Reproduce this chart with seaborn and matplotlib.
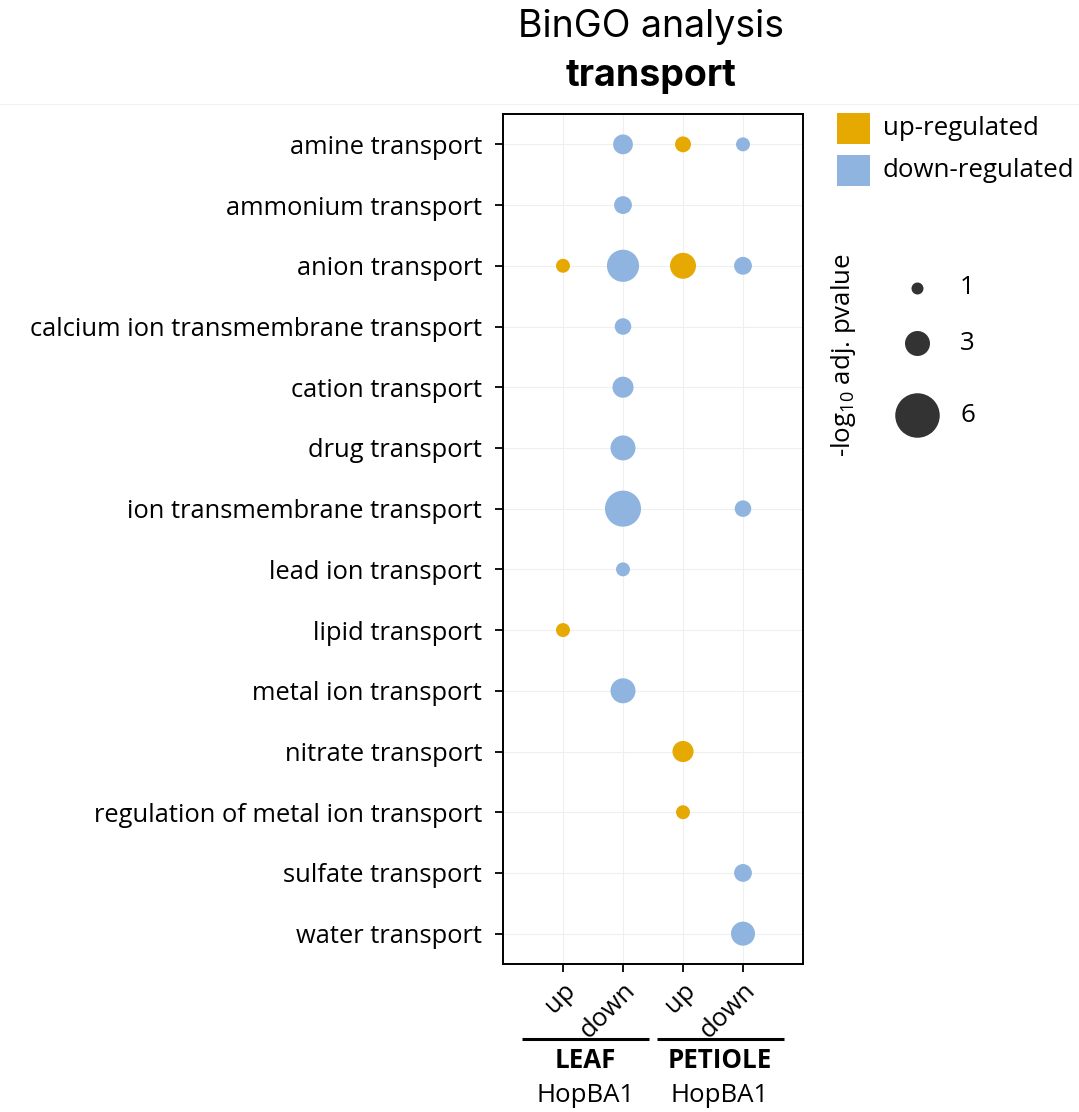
import numpy as np
import pandas as pd
import matplotlib
matplotlib.use("Agg")
import matplotlib.pyplot as plt
from matplotlib.patches import Rectangle
import seaborn as sns

# ---- data -----------------------------------------------------------------
terms = [
    "amine transport",
    "ammonium transport",
    "anion transport",
    "calcium ion transmembrane transport",
    "cation transport",
    "drug transport",
    "ion transmembrane transport",
    "lead ion transport",
    "lipid transport",
    "metal ion transport",
    "nitrate transport",
    "regulation of metal ion transport",
    "sulfate transport",
    "water transport",
]
# -log10 adjusted p-values per term (None = not enriched)
leaf_up = [None, None, 1.3, None, None, None, None, None, 1.3, None, None, None, None, None]
leaf_down = [2.2, 1.9, 4.1, 1.7, 2.4, 3.0, 4.7, 1.3, None, 3.0, None, None, None, None]
petiole_up = [1.6, None, 3.15, None, None, None, None, None, None, None, 2.4, 1.3, None, None]
petiole_down = [1.3, None, 1.9, None, None, None, 1.7, None, None, None, None, None, 1.9, 2.85]

column_labels = ["up", "down", "up", "down"]
tissues = ["LEAF", "PETIOLE"]
genotype = "HopBA1"
size_breaks = [1, 3, 6]

# ---- long table -----------------------------------------------------------
columns = [
    ("LEAF", "up", leaf_up),
    ("LEAF", "down", leaf_down),
    ("PETIOLE", "up", petiole_up),
    ("PETIOLE", "down", petiole_down),
]
rows = []
for ci, (tissue, direction, values) in enumerate(columns):
    for ti, v in enumerate(values):
        if v is not None:
            rows.append({"col": ci, "term": terms[ti], "row": ti,
                         "direction": direction, "pval": v})
df = pd.DataFrame(rows)

# ---- styling --------------------------------------------------------------
W, H = 1079, 1112
DPI = 100
UP_COLOR = "#E5A902"
DOWN_COLOR = "#8FB4E0"
palette = {"up": UP_COLOR, "down": DOWN_COLOR}

sns.set_theme(style="white")
plt.rcParams["font.family"] = ["Open Sans", "DejaVu Sans"]
plt.rcParams["text.color"] = "black"
plt.rcParams["axes.labelcolor"] = "black"
plt.rcParams["xtick.color"] = "black"
plt.rcParams["ytick.color"] = "black"
plt.rcParams["mathtext.fontset"] = "custom"
plt.rcParams["mathtext.rm"] = "Open Sans"
plt.rcParams["mathtext.it"] = "Open Sans:italic"
FS = 18.6
FS_Y = 18.4


def marker_area(v):
    """Dot diameter grows linearly with the value; returns area in pt^2."""
    diam_px = 5.5 + 6.5 * v
    diam_pt = diam_px * 72.0 / DPI
    return diam_pt ** 2


fig = plt.figure(figsize=(W / DPI, H / DPI), dpi=DPI)
fig.patch.set_facecolor("white")

ax_left, ax_right, ax_top, ax_bottom = 503, 803, 114, 964
ax = fig.add_axes([ax_left / W, 1 - ax_bottom / H,
                   (ax_right - ax_left) / W, (ax_bottom - ax_top) / H])

size_lut = {v: marker_area(v) for v in df["pval"].unique()}
sns.scatterplot(data=df, x="col", y="row", hue="direction", palette=palette,
                size="pval", sizes=size_lut, linewidth=0, legend=False,
                ax=ax, zorder=3)

ax.set_xlim(-1, 4)
ax.set_ylim(len(terms) - 1 + 0.5, -0.5)
ax.set_xticks(range(len(column_labels)))
ax.set_xticklabels(column_labels, rotation=45, ha="right",
                   rotation_mode="anchor", fontsize=FS)
ax.set_yticks(range(len(terms)))
ax.set_yticklabels(terms, fontsize=FS_Y)
ax.set_xlabel("")
ax.set_ylabel("")
ax.grid(True, color="#EFEFEF", linewidth=0.8, zorder=0)
ax.set_axisbelow(True)
for sp in ax.spines.values():
    sp.set_visible(True)
    sp.set_color("black")
    sp.set_linewidth(1.4)
ax.tick_params(axis="both", which="major", direction="out", length=6,
               width=1.3, color="black", labelcolor="black",
               bottom=True, left=True)
ax.tick_params(axis="y", pad=9)
ax.tick_params(axis="x", pad=4)

# ---- overlay in pixel coordinates for titles, legends and group labels ----
ov = fig.add_axes([0, 0, 1, 1])
ov.set_xlim(0, W)
ov.set_ylim(H, 0)
ov.axis("off")
ov.patch.set_visible(False)

# faint separator under the header
ov.plot([0, W], [104, 104], color="#F1F1F1", linewidth=0.8)

ov.text(651, 37, "BinGO analysis", ha="center", va="baseline",
        fontsize=27, family=["Inter", "DejaVu Sans"], color="black")
ov.text(651, 86, "transport", ha="center", va="baseline",
        fontsize=27, fontweight="bold", family=["Inter", "DejaVu Sans"],
        color="black")

# tissue grouping under the x axis
group_centres = [585.5, 720]
for centre, tissue in zip(group_centres, tissues):
    ov.plot([centre - 63.5, centre + 63.5], [1039, 1039], color="black",
            linewidth=2.2, solid_capstyle="butt")
    ov.text(centre, 1060, tissue, ha="center", va="center", fontsize=FS,
            fontweight="bold")
    ov.text(centre, 1096, genotype, ha="center", va="center", fontsize=FS)

# colour legend
for (y0, color, label) in [(113, UP_COLOR, "up-regulated"),
                           (155, DOWN_COLOR, "down-regulated")]:
    ov.add_patch(Rectangle((837, y0), 33, 31, facecolor=color,
                           edgecolor="none"))
    ov.text(883, y0 + 15.5, label, ha="left", va="center", fontsize=FS)

# size legend
legend_y = [288, 343, 415]
for v, y in zip(size_breaks, legend_y):
    ov.scatter([917], [y], s=marker_area(v), color="#333333", linewidth=0)
    ov.text(960, y, str(v), ha="left", va="center", fontsize=FS)
ov.text(843, 355, r"-log$_{10}$ adj. pvalue", rotation=90, ha="center",
        va="center", fontsize=FS)

fig.savefig("out.png", dpi=DPI, facecolor="white")
